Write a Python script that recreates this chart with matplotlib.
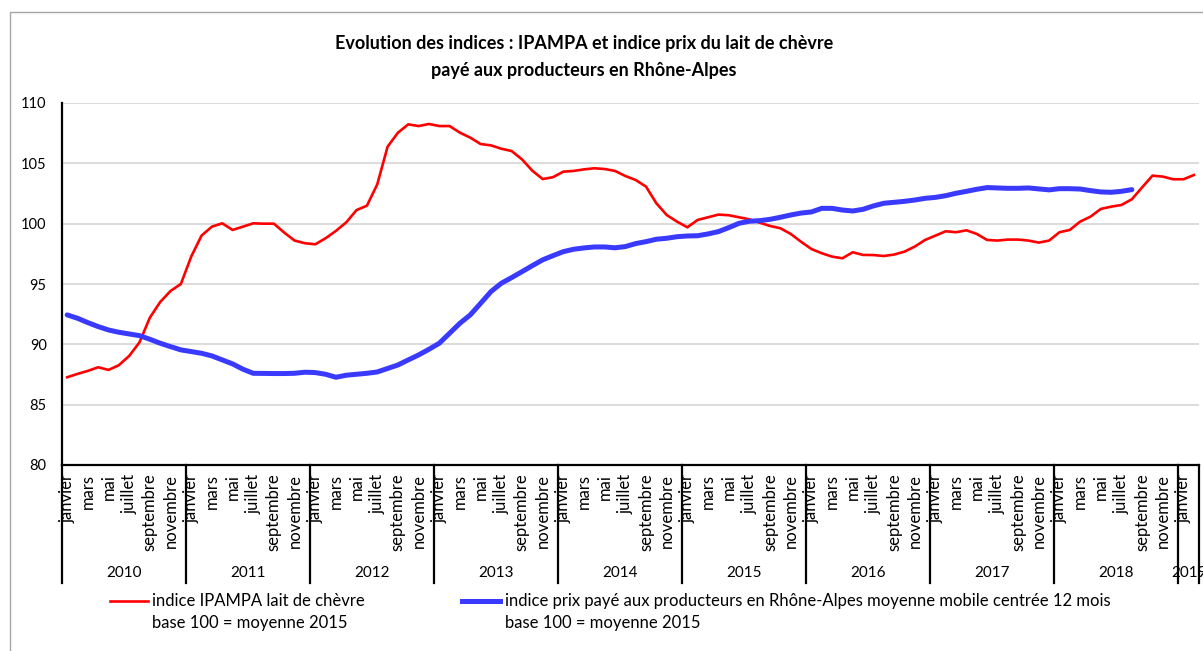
#!/usr/bin/python3
# -*- coding: utf8 -*-

import matplotlib
matplotlib.use("Agg")
import matplotlib.pyplot as plt
from matplotlib.lines import Line2D
from matplotlib.patches import Rectangle

plt.rcParams['font.family'] = ['Lato', 'DejaVu Sans']

# donnees (mensuel, janvier 2010 -> fevrier 2019)
annees = ["2010", "2011", "2012", "2013", "2014", "2015", "2016", "2017", "2018", "2019"]
mois = ["janvier", "février", "mars", "avril", "mai", "juin", "juillet", "août",
        "septembre", "octobre", "novembre", "décembre"]

ipampa = [87.27, 87.55, 87.8, 88.1, 87.88, 88.27, 89.04, 90.17, 92.21, 93.51, 94.42, 95.0,
          97.27, 99.01, 99.75, 100.03, 99.48, 99.75, 100.03, 100.0, 100.0, 99.26, 98.6, 98.38,
          98.29, 98.79, 99.4, 100.11, 101.13, 101.49, 103.26, 106.38, 107.54, 108.23, 108.09, 108.26,
          108.09, 108.09, 107.54, 107.13, 106.6, 106.49, 106.21, 106.02, 105.33, 104.39, 103.7, 103.85,
          104.31, 104.37, 104.5, 104.59, 104.53, 104.37, 103.95, 103.62, 103.07, 101.69, 100.72, 100.17,
          99.7, 100.31, 100.53, 100.75, 100.7, 100.53, 100.36, 100.08, 99.81, 99.62, 99.15, 98.5,
          97.9, 97.55, 97.27, 97.13, 97.63, 97.41, 97.4, 97.32, 97.44, 97.68, 98.1, 98.65,
          99.01, 99.37, 99.29, 99.45, 99.15, 98.65, 98.6, 98.68, 98.68, 98.6, 98.43, 98.6,
          99.29, 99.48, 100.17, 100.58, 101.22, 101.41, 101.55, 102.02, 103.01, 103.98, 103.9, 103.68,
          103.68, 104.03]

prix_ra = [92.44, 92.16, 91.8, 91.47, 91.19, 91.0, 90.86, 90.72, 90.42, 90.09, 89.81, 89.54,
           89.4, 89.26, 89.04, 88.71, 88.38, 87.94, 87.6, 87.59, 87.58, 87.58, 87.6, 87.69,
           87.66, 87.52, 87.27, 87.44, 87.52, 87.6, 87.71, 88.0, 88.29, 88.71, 89.12, 89.59,
           90.09, 90.92, 91.75, 92.44, 93.4, 94.37, 95.06, 95.53, 96.02, 96.52, 97.0, 97.35,
           97.68, 97.88, 97.99, 98.07, 98.07, 98.0, 98.1, 98.35, 98.51, 98.71, 98.79, 98.92,
           98.98, 99.0, 99.15, 99.34, 99.67, 100.03, 100.2, 100.25, 100.36, 100.53, 100.72, 100.88,
           100.97, 101.27, 101.27, 101.13, 101.05, 101.19, 101.47, 101.69, 101.77, 101.85, 101.96, 102.1,
           102.18, 102.32, 102.52, 102.68, 102.85, 102.99, 102.96, 102.93, 102.93, 102.96, 102.88, 102.8,
           102.9, 102.9, 102.87, 102.74, 102.63, 102.6, 102.68, 102.82]

label_rouge = "indice IPAMPA lait de chèvre\nbase 100 = moyenne 2015"
label_bleu = "indice prix payé aux producteurs en Rhône-Alpes moyenne mobile centrée 12 mois\nbase 100 = moyenne 2015"
titre = "Evolution des indices : IPAMPA et indice prix du lait de chèvre\npayé aux producteurs en Rhône-Alpes"

ROUGE = "#FF0000"
BLEU = "#3A3AFF"
W, H = 1203, 651

n = len(ipampa)
fig = plt.figure(figsize=(W / 100, H / 100), dpi=100)
ax = fig.add_axes([62 / W, 1 - 465 / H, (1199 - 62) / W, (465 - 103) / H])

ax.plot(range(len(ipampa)), ipampa, color=ROUGE, lw=1.9, solid_joinstyle='round', zorder=3)
ax.plot(range(len(prix_ra)), prix_ra, color=BLEU, lw=3.6, solid_capstyle='round',
        solid_joinstyle='round', zorder=3)

ax.set_xlim(-0.5, n - 0.5)
ax.set_ylim(80, 110)
ax.set_yticks(range(80, 111, 5))
ax.tick_params(axis='y', length=0, pad=11, labelsize=10.5)
ax.set_xticks([])
ax.grid(axis='y', color='#D9D9D9', lw=1.3)
ax.set_axisbelow(True)
for s in ['top', 'right']:
    ax.spines[s].set_visible(False)
ax.spines['left'].set_linewidth(1.6)
ax.spines['bottom'].set_linewidth(1.6)

# etiquettes des mois (un sur deux) et des annees
for i in range(n):
    if i % 2 == 0:
        ax.text(i, -0.024, mois[i % 12], transform=ax.get_xaxis_transform(),
                rotation=90, ha='center', va='top', fontsize=12)
for k, an in enumerate(annees):
    debut = k * 12 - 0.5
    fin = min(debut + 12, n - 0.5)
    ax.text((debut + fin) / 2, -0.298, an, transform=ax.get_xaxis_transform(),
            ha='center', va='center', fontsize=11, clip_on=False)
separateurs = [k * 12 - 0.5 for k in range(len(annees))] + [n - 0.5]
for x in separateurs:
    ax.plot([x, x], [0, -0.326], transform=ax.get_xaxis_transform(), color='black',
            lw=1.6, clip_on=False)

fig.text(584 / W, 1 - 57 / H, titre, ha='center', va='center', fontsize=13,
         fontweight='bold', linespacing=1.75)

# legende
fig.add_artist(Line2D([110 / W, 148 / W], [1 - 601 / H, 1 - 601 / H], color=ROUGE, lw=1.9))
fig.text(152 / W, 1 - 612 / H, label_rouge, ha='left', va='center', fontsize=12, linespacing=1.45)
fig.add_artist(Line2D([462 / W, 500 / W], [1 - 601 / H, 1 - 601 / H], color=BLEU, lw=3.6))
fig.text(505 / W, 1 - 612 / H, label_bleu, ha='left', va='center', fontsize=12, linespacing=1.45)

fig.add_artist(Rectangle((10 / W, -0.1), 1.5, 1 - 12 / H + 0.1, transform=fig.transFigure,
                         fill=False, edgecolor='#A6A6A6', lw=1.0))

fig.savefig("out.png", dpi=100)
